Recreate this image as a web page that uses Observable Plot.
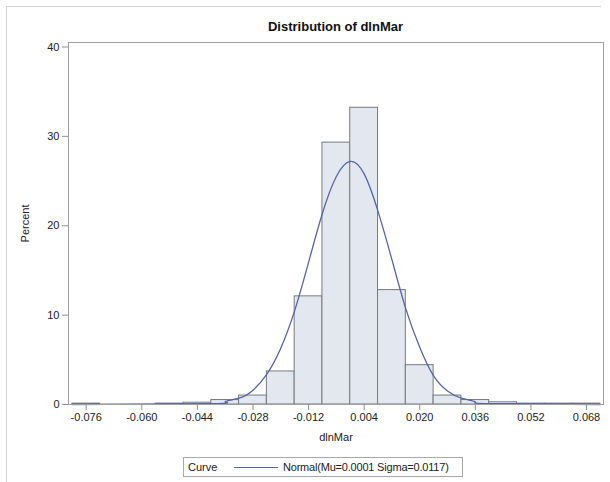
<!DOCTYPE html>
<html>
<head>
<meta charset="utf-8">
<script src="https://cdn.jsdelivr.net/npm/d3@7"></script>
<script src="https://cdn.jsdelivr.net/npm/@observablehq/plot@0.6"></script>
<style>
  body { margin: 0; background: #fff; font-family: "Liberation Sans", Arial, sans-serif; }
  #page { position: relative; width: 610px; height: 482px; overflow: hidden; }
  #border { position: absolute; left: 6px; top: 6px; width: 594px; height: 500px;
            border-top: 1px solid #d4d4d4; border-left: 1px solid #d4d4d4; pointer-events: none; }
  #title { height: 36px; box-sizing: border-box; padding-top: 19px; margin-left: 68px; width: 535px;
           text-align: center; font-weight: bold; font-size: 13px; line-height: 16px; color: #111; }
  #chart svg { display: block; }
  #legend { position: absolute; left: 183px; top: 457px; width: 280px; height: 20px; box-sizing: border-box;
            border: 1px solid #a8a8a8; font-size: 11px; color: #222; display: flex; align-items: center;
            white-space: nowrap; }
  #legend .lab { margin-left: 4px; width: 46px; flex: none; }
  #legend .ln { width: 44px; height: 0; border-top: 1px solid #5566a4; margin-right: 5px; flex: none; }
  #legend .txt { flex: none; letter-spacing: -0.2px; }
</style>
</head>
<body>
<div id="page">
  <div id="border"></div>
  <div id="title">Distribution of dlnMar</div>
  <div id="chart"></div>
  <div id="legend"><span class="lab">Curve</span><span class="ln"></span><span class="txt">Normal(Mu=0.0001 Sigma=0.0117)</span></div>
</div>
<script>
// Histogram bin midpoints (dlnMar) and percentages
const binMid = [-0.076, -0.068, -0.060, -0.052, -0.044, -0.036, -0.028, -0.020, -0.012, -0.004,
                0.004, 0.012, 0.020, 0.028, 0.036, 0.044, 0.052, 0.060, 0.068];
const binPct = [0.1, 0, 0, 0.1, 0.2, 0.5, 1.0, 3.7, 12.1, 29.3,
                33.2, 12.8, 4.4, 1.0, 0.5, 0.25, 0.1, 0.1, 0.1];
const binWidth = 0.008;

// Fitted normal curve
const curveX = [-0.080, -0.040, -0.036, -0.032, -0.028, -0.024, -0.020, -0.016, -0.012, -0.008, -0.004,
                0.000, 0.004, 0.008, 0.012, 0.016, 0.020, 0.024, 0.028, 0.032, 0.036, 0.040, 0.072];
const curveY = [0, 0.1, 0.3, 0.7, 1.6, 3.4, 6.3, 10.5, 15.9, 21.4, 25.5,
                27.2, 25.8, 21.6, 16.2, 10.7, 6.4, 3.2, 1.5, 0.7, 0.3, 0.1, 0];

const xTicks = [-0.076, -0.060, -0.044, -0.028, -0.012, 0.004, 0.020, 0.036, 0.052, 0.068];
const yTicks = [0, 10, 20, 30, 40];

const bins = binMid.map((m, i) => ({mid: m, pct: binPct[i]}));
const curve = curveX.map((x, i) => ({x, y: curveY[i]}));

const chart = Plot.plot({
  width: 610,
  height: 414,
  marginLeft: 68,
  marginRight: 7,
  marginTop: 6,
  marginBottom: 46,
  style: {fontFamily: "'Liberation Sans', Arial, sans-serif", fontSize: "11px", color: "#222", background: "#fff"},
  x: {domain: [-0.0811, 0.0729]},
  y: {domain: [0, 40.5]},
  marks: [
    Plot.rectY(bins, {x1: d => d.mid - binWidth / 2, x2: d => d.mid + binWidth / 2, y: "pct",
                      fill: "#e2e7f0", stroke: "#7a7a7a", strokeWidth: 1, inset: 0}),
    Plot.line(curve, {x: "x", y: "y", stroke: "#5566a4", strokeWidth: 1.3, curve: "natural"}),
    Plot.frame({stroke: "#a0a0a0"}),
    Plot.axisX({ticks: xTicks, tickFormat: d => d.toFixed(3), tickSize: 6, tickPadding: 3,
                stroke: "#909090", label: "dlnMar", labelAnchor: "center", labelArrow: "none", labelOffset: 36}),
    Plot.axisY({ticks: yTicks, tickSize: 6, tickPadding: 3, stroke: "#909090",
                label: "Percent", labelAnchor: "center", labelArrow: "none", labelOffset: 47})
  ]
});
document.getElementById("chart").appendChild(chart);
</script>
</body>
</html>
